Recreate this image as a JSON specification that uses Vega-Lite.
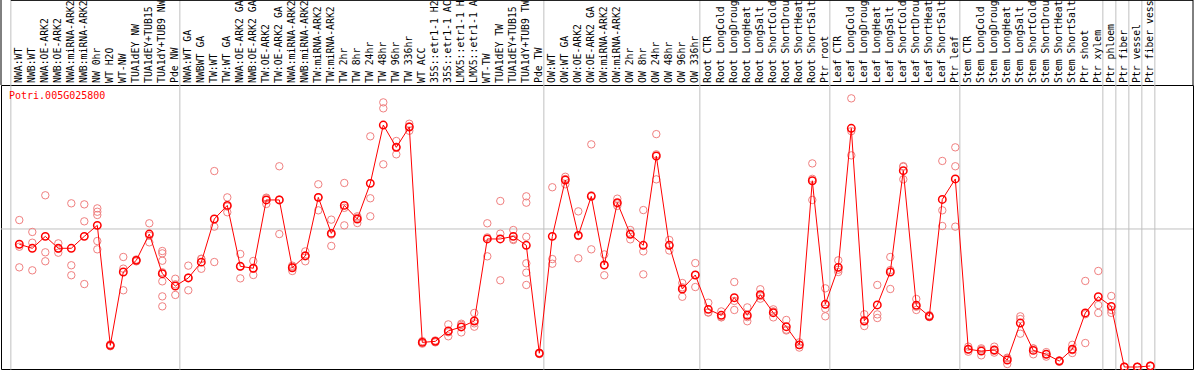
{
  "$schema": "https://vega.github.io/schema/vega-lite/v6.json",
  "width": 1192,
  "height": 284,
  "autosize": {"type": "none"},
  "padding": {"left": 1, "top": 85, "right": 1, "bottom": 1},
  "background": "white",
  "config": {
    "view": {"stroke": "black", "strokeWidth": 1},
    "font": "DejaVu Sans Mono",
    "axisX": {"disable": true}
  },
  "title": {
    "text": "Potri.005G025800",
    "anchor": "start",
    "frame": "group",
    "orient": "top",
    "color": "#ff0000",
    "font": "DejaVu Sans Mono",
    "fontSize": 10,
    "fontWeight": "normal",
    "baseline": "top",
    "offset": 0,
    "dx": 8,
    "dy": 103
  },
  "datasets": {
    "cols": [
      {"i": 1, "name": "NWA:WT", "mean": 947},
      {"i": 2, "name": "NWB:WT", "mean": 916},
      {"i": 3, "name": "NWA:OE-ARK2", "mean": 1008},
      {"i": 4, "name": "NWB:OE-ARK2", "mean": 916},
      {"i": 5, "name": "NWA:miRNA-ARK2", "mean": 916},
      {"i": 6, "name": "NWB:miRNA-ARK2", "mean": 1008},
      {"i": 7, "name": "NW 0hr", "mean": 1093},
      {"i": 8, "name": "WT H2O", "mean": 167},
      {"i": 9, "name": "WT-NW", "mean": 733},
      {"i": 10, "name": "TUA1dEY NW", "mean": 823},
      {"i": 11, "name": "TUA1dEY+TUB15", "mean": 1026},
      {"i": 12, "name": "TUA1dY+TUB9 NW", "mean": 720},
      {"i": 13, "name": "Pde NW", "mean": 625},
      {"i": 14, "name": "NWA:WT GA", "mean": 687},
      {"i": 15, "name": "NWBWT GA", "mean": 809},
      {"i": 16, "name": "TW:WT", "mean": 1142},
      {"i": 17, "name": "TW:WT GA", "mean": 1247},
      {"i": 18, "name": "NWA:OE-ARK2 GA", "mean": 777},
      {"i": 19, "name": "NWB:OE-ARK2 GA", "mean": 762},
      {"i": 20, "name": "TW:OE-ARK2", "mean": 1289},
      {"i": 21, "name": "TW:OE-ARK2 GA", "mean": 1289},
      {"i": 22, "name": "NWA:miRNA-ARK2", "mean": 766},
      {"i": 23, "name": "NWB:miRNA-ARK2", "mean": 857},
      {"i": 24, "name": "TW:miRNA-ARK2", "mean": 1309},
      {"i": 25, "name": "TW:miRNA-ARK2", "mean": 1031},
      {"i": 26, "name": "TW 2hr", "mean": 1247},
      {"i": 27, "name": "TW 8hr", "mean": 1142},
      {"i": 28, "name": "TW 24hr", "mean": 1417},
      {"i": 29, "name": "TW 48hr", "mean": 1867},
      {"i": 30, "name": "TW 96hr", "mean": 1695},
      {"i": 31, "name": "TW 336hr", "mean": 1852},
      {"i": 32, "name": "WT ACC", "mean": 190},
      {"i": 33, "name": "35S::etr1-1 H2", "mean": 198},
      {"i": 34, "name": "35S::etr1-1 AC", "mean": 278},
      {"i": 35, "name": "LMX5::etr1-1 H", "mean": 309},
      {"i": 36, "name": "LMX5::etr1-1 A", "mean": 355},
      {"i": 37, "name": "WT-TW", "mean": 988},
      {"i": 38, "name": "TUA1dEY TW", "mean": 988},
      {"i": 39, "name": "TUA1dEY+TUB15", "mean": 1008},
      {"i": 40, "name": "TUA1dY+TUB9 TW", "mean": 939},
      {"i": 41, "name": "Pde TW", "mean": 106},
      {"i": 42, "name": "OW:WT", "mean": 1008},
      {"i": 43, "name": "OW:WT GA", "mean": 1443},
      {"i": 44, "name": "OW:OE-ARK2", "mean": 1016},
      {"i": 45, "name": "OW:OE-ARK2 GA", "mean": 1317},
      {"i": 46, "name": "OW:miRNA-ARK2", "mean": 787},
      {"i": 47, "name": "OW:miRNA-ARK2", "mean": 1268},
      {"i": 48, "name": "OW 2hr", "mean": 1024},
      {"i": 49, "name": "OW 8hr", "mean": 939},
      {"i": 50, "name": "OW 24hr", "mean": 1628},
      {"i": 51, "name": "OW 48hr", "mean": 939},
      {"i": 52, "name": "OW 96hr", "mean": 602},
      {"i": 53, "name": "OW 336hr", "mean": 710},
      {"i": 54, "name": "Root CTR", "mean": 445},
      {"i": 55, "name": "Root LongCold", "mean": 399},
      {"i": 56, "name": "Root LongDroug", "mean": 535},
      {"i": 57, "name": "Root LongHeat", "mean": 399},
      {"i": 58, "name": "Root LongSalt", "mean": 558},
      {"i": 59, "name": "Root ShortCold", "mean": 419},
      {"i": 60, "name": "Root ShortDrou", "mean": 311},
      {"i": 61, "name": "Root ShortHeat", "mean": 171},
      {"i": 62, "name": "Root ShortSalt", "mean": 1437},
      {"i": 63, "name": "Ptr root", "mean": 484},
      {"i": 64, "name": "Leaf CTR", "mean": 769},
      {"i": 65, "name": "Leaf LongCold", "mean": 1842},
      {"i": 66, "name": "Leaf LongDroug", "mean": 357},
      {"i": 67, "name": "Leaf LongHeat", "mean": 479},
      {"i": 68, "name": "Leaf LongSalt", "mean": 733},
      {"i": 69, "name": "Leaf ShortCold", "mean": 1515},
      {"i": 70, "name": "Leaf ShortDrou", "mean": 476},
      {"i": 71, "name": "Leaf ShortHeat", "mean": 391},
      {"i": 72, "name": "Leaf ShortSalt", "mean": 1293},
      {"i": 73, "name": "Ptr leaf", "mean": 1451},
      {"i": 74, "name": "Stem CTR", "mean": 137},
      {"i": 75, "name": "Stem LongCold", "mean": 123},
      {"i": 76, "name": "Stem LongDroug", "mean": 131},
      {"i": 77, "name": "Stem LongHeat", "mean": 54},
      {"i": 78, "name": "Stem LongSalt", "mean": 339},
      {"i": 79, "name": "Stem ShortCold", "mean": 128},
      {"i": 80, "name": "Stem ShortDrou", "mean": 98},
      {"i": 81, "name": "Stem ShortHeat", "mean": 46},
      {"i": 82, "name": "Stem ShortSalt", "mean": 137},
      {"i": 83, "name": "Ptr shoot", "mean": 417},
      {"i": 84, "name": "Ptr xylem", "mean": 542},
      {"i": 85, "name": "Ptr phloem", "mean": 468},
      {"i": 86, "name": "Ptr fiber", "mean": 0},
      {"i": 87, "name": "Ptr vessel", "mean": 0},
      {"i": 88, "name": "Ptr fiber vess", "mean": 8}
    ],
    "reps": [
      {"i": 1, "v": 1134}, {"i": 1, "v": 928}, {"i": 1, "v": 769},
      {"i": 2, "v": 1042}, {"i": 2, "v": 959}, {"i": 2, "v": 746},
      {"i": 3, "v": 1325}, {"i": 3, "v": 885}, {"i": 3, "v": 816},
      {"i": 4, "v": 954}, {"i": 4, "v": 882}, {"i": 4, "v": 912},
      {"i": 5, "v": 1263}, {"i": 5, "v": 785}, {"i": 5, "v": 708},
      {"i": 6, "v": 1255}, {"i": 6, "v": 1124}, {"i": 6, "v": 640},
      {"i": 7, "v": 1224}, {"i": 7, "v": 1198}, {"i": 7, "v": 1173}, {"i": 7, "v": 972}, {"i": 7, "v": 908},
      {"i": 8, "v": 175}, {"i": 8, "v": 160}, {"i": 8, "v": 166},
      {"i": 9, "v": 849}, {"i": 9, "v": 759}, {"i": 9, "v": 592},
      {"i": 10, "v": 830}, {"i": 10, "v": 815}, {"i": 10, "v": 824},
      {"i": 11, "v": 1109}, {"i": 11, "v": 1013}, {"i": 11, "v": 962},
      {"i": 12, "v": 895}, {"i": 12, "v": 877}, {"i": 12, "v": 820}, {"i": 12, "v": 731}, {"i": 12, "v": 661}, {"i": 12, "v": 545}, {"i": 12, "v": 468},
      {"i": 13, "v": 681}, {"i": 13, "v": 556}, {"i": 13, "v": 638},
      {"i": 14, "v": 782}, {"i": 14, "v": 592}, {"i": 14, "v": 690},
      {"i": 15, "v": 836}, {"i": 15, "v": 758}, {"i": 15, "v": 833},
      {"i": 16, "v": 1512}, {"i": 16, "v": 1083}, {"i": 16, "v": 810},
      {"i": 17, "v": 1309}, {"i": 17, "v": 1194}, {"i": 17, "v": 1238},
      {"i": 18, "v": 872}, {"i": 18, "v": 684}, {"i": 18, "v": 775},
      {"i": 19, "v": 818}, {"i": 19, "v": 710}, {"i": 19, "v": 758},
      {"i": 20, "v": 1302}, {"i": 20, "v": 1258}, {"i": 20, "v": 1307},
      {"i": 21, "v": 1549}, {"i": 21, "v": 1026}, {"i": 21, "v": 1292},
      {"i": 22, "v": 782}, {"i": 22, "v": 741}, {"i": 22, "v": 775},
      {"i": 23, "v": 892}, {"i": 23, "v": 816}, {"i": 23, "v": 862},
      {"i": 24, "v": 1410}, {"i": 24, "v": 1209}, {"i": 24, "v": 1309},
      {"i": 25, "v": 1137}, {"i": 25, "v": 934}, {"i": 25, "v": 1022},
      {"i": 26, "v": 1420}, {"i": 26, "v": 1093}, {"i": 26, "v": 1228},
      {"i": 27, "v": 1163}, {"i": 27, "v": 1111}, {"i": 27, "v": 1152},
      {"i": 28, "v": 1780}, {"i": 28, "v": 1302}, {"i": 28, "v": 1163},
      {"i": 29, "v": 2042}, {"i": 29, "v": 1996}, {"i": 29, "v": 1564},
      {"i": 30, "v": 1744}, {"i": 30, "v": 1641}, {"i": 30, "v": 1700},
      {"i": 31, "v": 1877}, {"i": 31, "v": 1823}, {"i": 31, "v": 1856},
      {"i": 32, "v": 200}, {"i": 32, "v": 180}, {"i": 32, "v": 193},
      {"i": 33, "v": 205}, {"i": 33, "v": 190}, {"i": 33, "v": 200},
      {"i": 34, "v": 329}, {"i": 34, "v": 237}, {"i": 34, "v": 268},
      {"i": 35, "v": 334}, {"i": 35, "v": 267}, {"i": 35, "v": 325},
      {"i": 36, "v": 417}, {"i": 36, "v": 311}, {"i": 36, "v": 337},
      {"i": 37, "v": 1109}, {"i": 37, "v": 854}, {"i": 37, "v": 1000},
      {"i": 38, "v": 1281}, {"i": 38, "v": 1029}, {"i": 38, "v": 669},
      {"i": 39, "v": 1057}, {"i": 39, "v": 980}, {"i": 39, "v": 987},
      {"i": 40, "v": 1317}, {"i": 40, "v": 1268}, {"i": 40, "v": 1005}, {"i": 40, "v": 800}, {"i": 40, "v": 728}, {"i": 40, "v": 633},
      {"i": 41, "v": 110}, {"i": 41, "v": 100}, {"i": 41, "v": 108},
      {"i": 42, "v": 1387}, {"i": 42, "v": 833}, {"i": 42, "v": 797},
      {"i": 43, "v": 1468}, {"i": 43, "v": 1410}, {"i": 43, "v": 1450},
      {"i": 44, "v": 1201}, {"i": 44, "v": 839}, {"i": 44, "v": 1010},
      {"i": 45, "v": 1718}, {"i": 45, "v": 908}, {"i": 45, "v": 1325},
      {"i": 46, "v": 869}, {"i": 46, "v": 708}, {"i": 46, "v": 785},
      {"i": 47, "v": 1299}, {"i": 47, "v": 1243}, {"i": 47, "v": 1262},
      {"i": 48, "v": 1057}, {"i": 48, "v": 985}, {"i": 48, "v": 1030},
      {"i": 49, "v": 1211}, {"i": 49, "v": 892}, {"i": 49, "v": 715},
      {"i": 50, "v": 1797}, {"i": 50, "v": 1641}, {"i": 50, "v": 1448},
      {"i": 51, "v": 980}, {"i": 51, "v": 899}, {"i": 51, "v": 940},
      {"i": 52, "v": 648}, {"i": 52, "v": 542}, {"i": 52, "v": 615},
      {"i": 53, "v": 802}, {"i": 53, "v": 617}, {"i": 53, "v": 710},
      {"i": 54, "v": 496}, {"i": 54, "v": 422}, {"i": 54, "v": 420},
      {"i": 55, "v": 429}, {"i": 55, "v": 383}, {"i": 55, "v": 385},
      {"i": 56, "v": 656}, {"i": 56, "v": 440}, {"i": 56, "v": 510},
      {"i": 57, "v": 460}, {"i": 57, "v": 353}, {"i": 57, "v": 385},
      {"i": 58, "v": 600}, {"i": 58, "v": 527}, {"i": 58, "v": 547},
      {"i": 59, "v": 429}, {"i": 59, "v": 383}, {"i": 59, "v": 445},
      {"i": 60, "v": 363}, {"i": 60, "v": 288}, {"i": 60, "v": 282},
      {"i": 61, "v": 190}, {"i": 61, "v": 150}, {"i": 61, "v": 170},
      {"i": 62, "v": 1571}, {"i": 62, "v": 1452}, {"i": 62, "v": 1289},
      {"i": 63, "v": 607}, {"i": 63, "v": 450}, {"i": 63, "v": 391},
      {"i": 64, "v": 823}, {"i": 64, "v": 733}, {"i": 64, "v": 751},
      {"i": 65, "v": 2073}, {"i": 65, "v": 1633}, {"i": 65, "v": 1820},
      {"i": 66, "v": 407}, {"i": 66, "v": 316}, {"i": 66, "v": 350},
      {"i": 67, "v": 633}, {"i": 67, "v": 406}, {"i": 67, "v": 378},
      {"i": 68, "v": 849}, {"i": 68, "v": 602}, {"i": 68, "v": 748},
      {"i": 69, "v": 1545}, {"i": 69, "v": 1448}, {"i": 69, "v": 1550},
      {"i": 70, "v": 525}, {"i": 70, "v": 440}, {"i": 70, "v": 465},
      {"i": 71, "v": 385}, {"i": 71, "v": 400}, {"i": 71, "v": 390},
      {"i": 72, "v": 1590}, {"i": 72, "v": 1209}, {"i": 72, "v": 1088},
      {"i": 73, "v": 1695}, {"i": 73, "v": 1549}, {"i": 73, "v": 1083},
      {"i": 74, "v": 157}, {"i": 74, "v": 118}, {"i": 74, "v": 136},
      {"i": 75, "v": 144}, {"i": 75, "v": 90}, {"i": 75, "v": 135},
      {"i": 76, "v": 157}, {"i": 76, "v": 111}, {"i": 76, "v": 125},
      {"i": 77, "v": 72}, {"i": 77, "v": 23}, {"i": 77, "v": 67},
      {"i": 78, "v": 391}, {"i": 78, "v": 370}, {"i": 78, "v": 257},
      {"i": 79, "v": 144}, {"i": 79, "v": 98}, {"i": 79, "v": 142},
      {"i": 80, "v": 80}, {"i": 80, "v": 115}, {"i": 80, "v": 100},
      {"i": 81, "v": 50}, {"i": 81, "v": 40}, {"i": 81, "v": 48},
      {"i": 82, "v": 171}, {"i": 82, "v": 108}, {"i": 82, "v": 130},
      {"i": 83, "v": 664}, {"i": 83, "v": 407}, {"i": 83, "v": 185},
      {"i": 84, "v": 741}, {"i": 84, "v": 478}, {"i": 84, "v": 417},
      {"i": 85, "v": 548}, {"i": 85, "v": 440}, {"i": 85, "v": 418},
      {"i": 86, "v": 0}, {"i": 86, "v": 2}, {"i": 86, "v": 0},
      {"i": 87, "v": 0}, {"i": 87, "v": 0}, {"i": 87, "v": 0},
      {"i": 88, "v": 10}, {"i": 88, "v": 5}, {"i": 88, "v": 8}
    ],
    "seps": [
      {"x": 0.35}, {"x": 13.35}, {"x": 41.35}, {"x": 53.35}, {"x": 63.35},
      {"x": 73.35}, {"x": 84.35}, {"x": 85.35}, {"x": 86.35}, {"x": 87.35}, {"x": 88.35}
    ],
    "grid": [{"y": 1065}]
  },
  "layer": [
    {
      "data": {"name": "seps"},
      "mark": {"type": "rule", "color": "#c0c0c0", "strokeWidth": 1},
      "encoding": {
        "x": {"field": "x", "type": "quantitative", "scale": {"domain": [-0.408, 91.285], "nice": false, "zero": false}},
        "y": {"datum": 2840, "type": "quantitative", "scale": {"domain": [-15.4, 2176], "nice": false, "zero": false}, "axis": null},
        "y2": {"datum": -20}
      }
    },
    {
      "data": {"name": "grid"},
      "mark": {"type": "rule", "color": "#c0c0c0", "strokeWidth": 1},
      "encoding": {
        "y": {
          "field": "y",
          "type": "quantitative",
          "axis": {
            "orient": "right",
            "offset": -31,
            "values": [0, 1065, 2030],
            "labelExpr": "datum.value == 0 ? '0' : datum.value + '.'",
            "ticks": false,
            "domain": false,
            "grid": false,
            "title": null,
            "labelAlign": "left",
            "labelBaseline": {"condition": {"test": "datum.value == 0", "value": "bottom"}, "value": "top"},
            "labelPadding": 1,
            "labelFont": "DejaVu Sans Mono",
            "labelFontSize": 10,
            "labelColor": "black",
            "labelFlush": false,
            "labelOverlap": false
          }
        }
      }
    },
    {
      "data": {"values": [{}]},
      "mark": {"type": "rule", "color": "black", "strokeWidth": 1},
      "encoding": {
        "x": {"datum": -0.408, "type": "quantitative"},
        "y": {"datum": 2840, "type": "quantitative", "axis": null},
        "y2": {"datum": 2176}
      }
    },
    {
      "data": {"values": [{}]},
      "mark": {"type": "rule", "color": "black", "strokeWidth": 1},
      "encoding": {
        "x": {"datum": 91.285, "type": "quantitative"},
        "y": {"datum": 2840, "type": "quantitative", "axis": null},
        "y2": {"datum": 2176}
      }
    },
    {
      "data": {"values": [{}]},
      "mark": {"type": "rule", "color": "black", "strokeWidth": 1},
      "encoding": {
        "x": {"datum": 0.35, "type": "quantitative"},
        "x2": {"datum": 91.285},
        "y": {"datum": 2829, "type": "quantitative", "axis": null}
      }
    },
    {
      "data": {"name": "reps"},
      "mark": {"type": "point", "shape": "circle", "filled": false, "stroke": "#f08080", "strokeWidth": 1, "size": 55, "opacity": 1},
      "encoding": {
        "x": {"field": "i", "type": "quantitative"},
        "y": {"field": "v", "type": "quantitative", "axis": null}
      }
    },
    {
      "data": {"name": "cols"},
      "mark": {"type": "line", "color": "#ff0000", "strokeWidth": 1},
      "encoding": {
        "x": {"field": "i", "type": "quantitative"},
        "y": {"field": "mean", "type": "quantitative", "axis": null}
      }
    },
    {
      "data": {"name": "cols"},
      "mark": {"type": "point", "shape": "circle", "filled": false, "stroke": "#ff0000", "strokeWidth": 1.5, "size": 55, "opacity": 1},
      "encoding": {
        "x": {"field": "i", "type": "quantitative"},
        "y": {"field": "mean", "type": "quantitative", "axis": null}
      }
    },
    {
      "data": {"name": "cols"},
      "mark": {"type": "text", "angle": 270, "align": "left", "baseline": "middle", "dx": 2, "font": "DejaVu Sans Mono", "fontSize": 9.8, "color": "black"},
      "encoding": {
        "x": {"field": "i", "type": "quantitative"},
        "y": {"datum": 2176, "type": "quantitative", "axis": null},
        "text": {"field": "name"}
      }
    }
  ]
}
